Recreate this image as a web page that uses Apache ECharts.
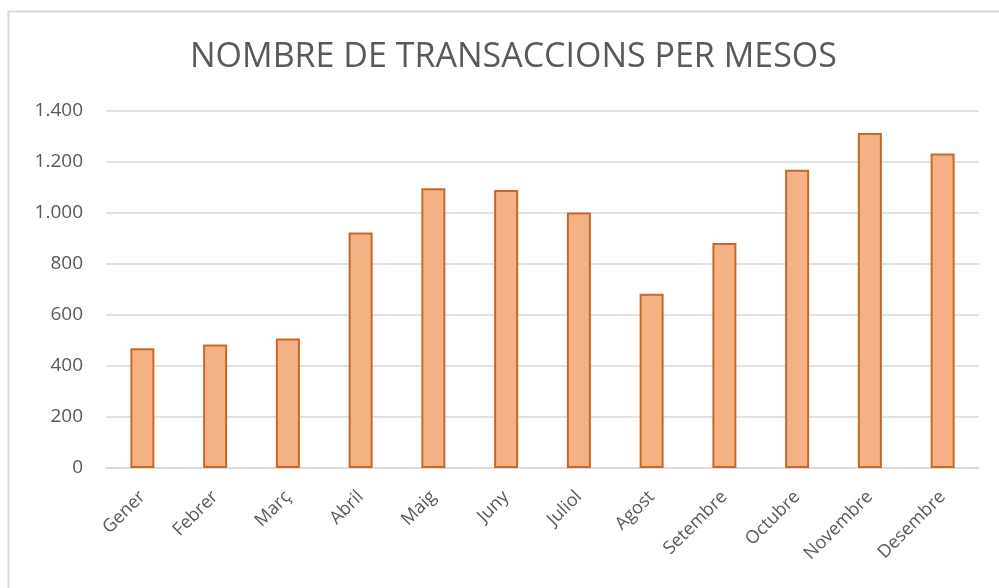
<!DOCTYPE html>
<html>
<head>
<meta charset="utf-8">
<script src="https://cdn.jsdelivr.net/npm/echarts@6/dist/echarts.min.js"></script>
<style>
  html, body { margin: 0; padding: 0; background: #fff; }
  #chart { width: 999px; height: 588px; }
</style>
</head>
<body>
<div id="chart"></div>
<script>
// dades llegides del gràfic
let mesos = ['Gener', 'Febrer', 'Març', 'Abril', 'Maig', 'Juny', 'Juliol', 'Agost', 'Setembre', 'Octubre', 'Novembre', 'Desembre'];
let transaccions = [470, 484, 508, 924, 1097, 1090, 1002, 683, 882, 1170, 1314, 1233];
let titol = 'NOMBRE DE TRANSACCIONS PER MESOS';

let myChart = echarts.init(document.getElementById('chart'));

let option = {
    animation: false,
    backgroundColor: '#fff',
    title: {
        text: titol,
        left: 185,
        top: 35,
        textStyle: {
            fontFamily: 'Open Sans',
            fontWeight: 'normal',
            fontSize: 34,
            color: '#595959'
        }
    },
    grid: {
        left: 106,
        right: 20,
        top: 111,
        bottom: 120
    },
    xAxis: {
        type: 'category',
        data: mesos,
        axisTick: { show: false },
        axisLine: { lineStyle: { color: '#d9d9d9', width: 1.5 } },
        axisLabel: {
            rotate: 45,
            interval: 0,
            margin: 26,
            fontFamily: 'Open Sans',
            fontSize: 18,
            color: '#595959'
        }
    },
    yAxis: {
        type: 'value',
        min: 0,
        max: 1400,
        interval: 200,
        axisLine: { show: false },
        axisTick: { show: false },
        splitLine: { lineStyle: { color: '#d9d9d9', width: 1.5 } },
        axisLabel: {
            margin: 23,
            fontFamily: 'Open Sans',
            fontSize: 19,
            color: '#595959',
            formatter: function (v) {
                return String(v).replace(/\B(?=(\d{3})+(?!\d))/g, '.');
            }
        }
    },
    series: [{
        type: 'bar',
        data: transaccions,
        barWidth: '33%',
        itemStyle: {
            color: '#f4b183',
            borderColor: '#c9672a',
            borderWidth: 2
        }
    }],
    graphic: [
        {
            type: 'polyline',
            shape: { points: [[8.5, 588], [8.5, 11.5], [999, 11.5]] },
            style: { stroke: '#d9d9d9', lineWidth: 2, fill: null }
        }
    ]
};

myChart.setOption(option);
window.addEventListener('resize', function () {
    myChart.resize();
});
</script>
</body>
</html>
